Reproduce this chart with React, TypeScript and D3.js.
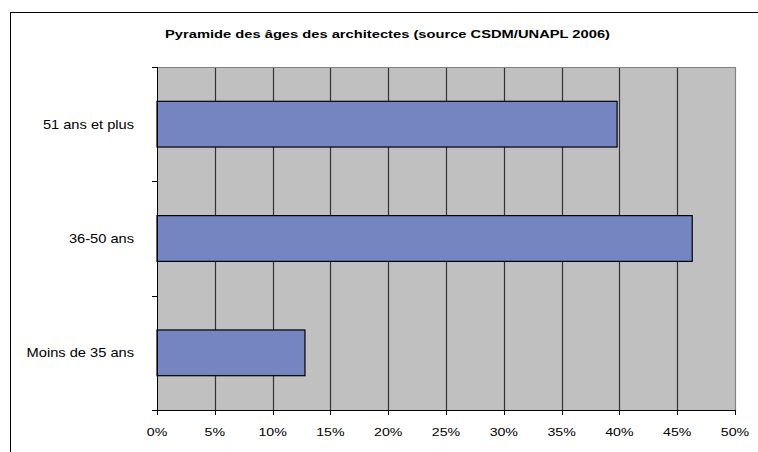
import React from "react";
import * as d3 from "d3";

const categories = ["51 ans et plus", "36-50 ans", "Moins de 35 ans"];
const values = [39.8, 46.3, 12.8];
const xTicks = [0, 5, 10, 15, 20, 25, 30, 35, 40, 45, 50];
const title = "Pyramide des âges des architectes (source CSDM/UNAPL 2006)";

const W = 758;
const H = 452;
const plot = { left: 157, right: 735, top: 67, bottom: 410 };
const SX = 1.2;
const FONT = "'Liberation Sans', Arial, sans-serif";

export default function App() {
  const x = d3.scaleLinear().domain([0, 50]).range([plot.left, plot.right]);
  const y = d3
    .scaleBand<string>()
    .domain(categories)
    .range([plot.top, plot.bottom])
    .paddingInner(0.6)
    .paddingOuter(0.3);
  const bandEdges = d3.range(categories.length + 1).map(
    (i) => plot.top + (i * (plot.bottom - plot.top)) / categories.length
  );

  return (
    <svg
      width={W}
      height={H}
      style={{ position: "absolute", left: 0, top: 0 }}
      fontFamily={FONT}
    >
      <rect x={0} y={0} width={W} height={H} fill="#fff" />
      <rect x={10.5} y={12.5} width={900} height={600} fill="none" stroke="#000" strokeWidth={1} />
      <text
        transform={`translate(387.5,37.5) scale(1.28,1)`}
        textAnchor="middle"
        fontSize={11.5}
        fontWeight="bold"
        fill="#000"
      >
        {title}
      </text>
      <rect
        x={plot.left}
        y={plot.top}
        width={plot.right - plot.left}
        height={plot.bottom - plot.top}
        fill="#C0C0C0"
      />
      {xTicks.slice(1).map((t) => (
        <line
          key={"g" + t}
          x1={Math.round(x(t)) + 0.5}
          x2={Math.round(x(t)) + 0.5}
          y1={plot.top}
          y2={plot.bottom}
          stroke={t === 50 ? "#808080" : "#333"}
          strokeWidth={1.2}
        />
      ))}
      <line x1={plot.left} x2={plot.right} y1={plot.top + 0.5} y2={plot.top + 0.5} stroke="#808080" strokeWidth={1} />
      {categories.map((c, i) => (
        <rect
          key={c}
          x={x(0)}
          y={y(c)!}
          width={x(values[i]) - x(0)}
          height={y.bandwidth()}
          fill="#7585C2"
          stroke="#000"
          strokeWidth={1.2}
        />
      ))}
      <line x1={plot.left + 0.5} x2={plot.left + 0.5} y1={plot.top} y2={plot.bottom} stroke="#000" strokeWidth={1} />
      <line x1={plot.left} x2={plot.right} y1={plot.bottom + 0.5} y2={plot.bottom + 0.5} stroke="#000" strokeWidth={1} />
      {bandEdges.map((e, i) => (
        <line key={"yt" + i} x1={plot.left - 5} x2={plot.left} y1={Math.round(e) + 0.5} y2={Math.round(e) + 0.5} stroke="#000" />
      ))}
      {xTicks.map((t) => (
        <line
          key={"xt" + t}
          x1={Math.round(x(t)) + 0.5}
          x2={Math.round(x(t)) + 0.5}
          y1={plot.bottom}
          y2={plot.bottom + 5}
          stroke="#000"
        />
      ))}
      {xTicks.map((t) => (
        <text
          key={"xl" + t}
          transform={`translate(${x(t)},436) scale(${SX},1)`}
          textAnchor="middle"
          fontSize={11.8}
          fill="#000"
        >
          {t + "%"}
        </text>
      ))}
      {categories.map((c) => (
        <text
          key={"yl" + c}
          transform={`translate(134,${y(c)! + y.bandwidth() / 2 + 4.5}) scale(${SX},1)`}
          textAnchor="end"
          fontSize={12.2}
          fill="#000"
        >
          {c}
        </text>
      ))}
    </svg>
  );
}
